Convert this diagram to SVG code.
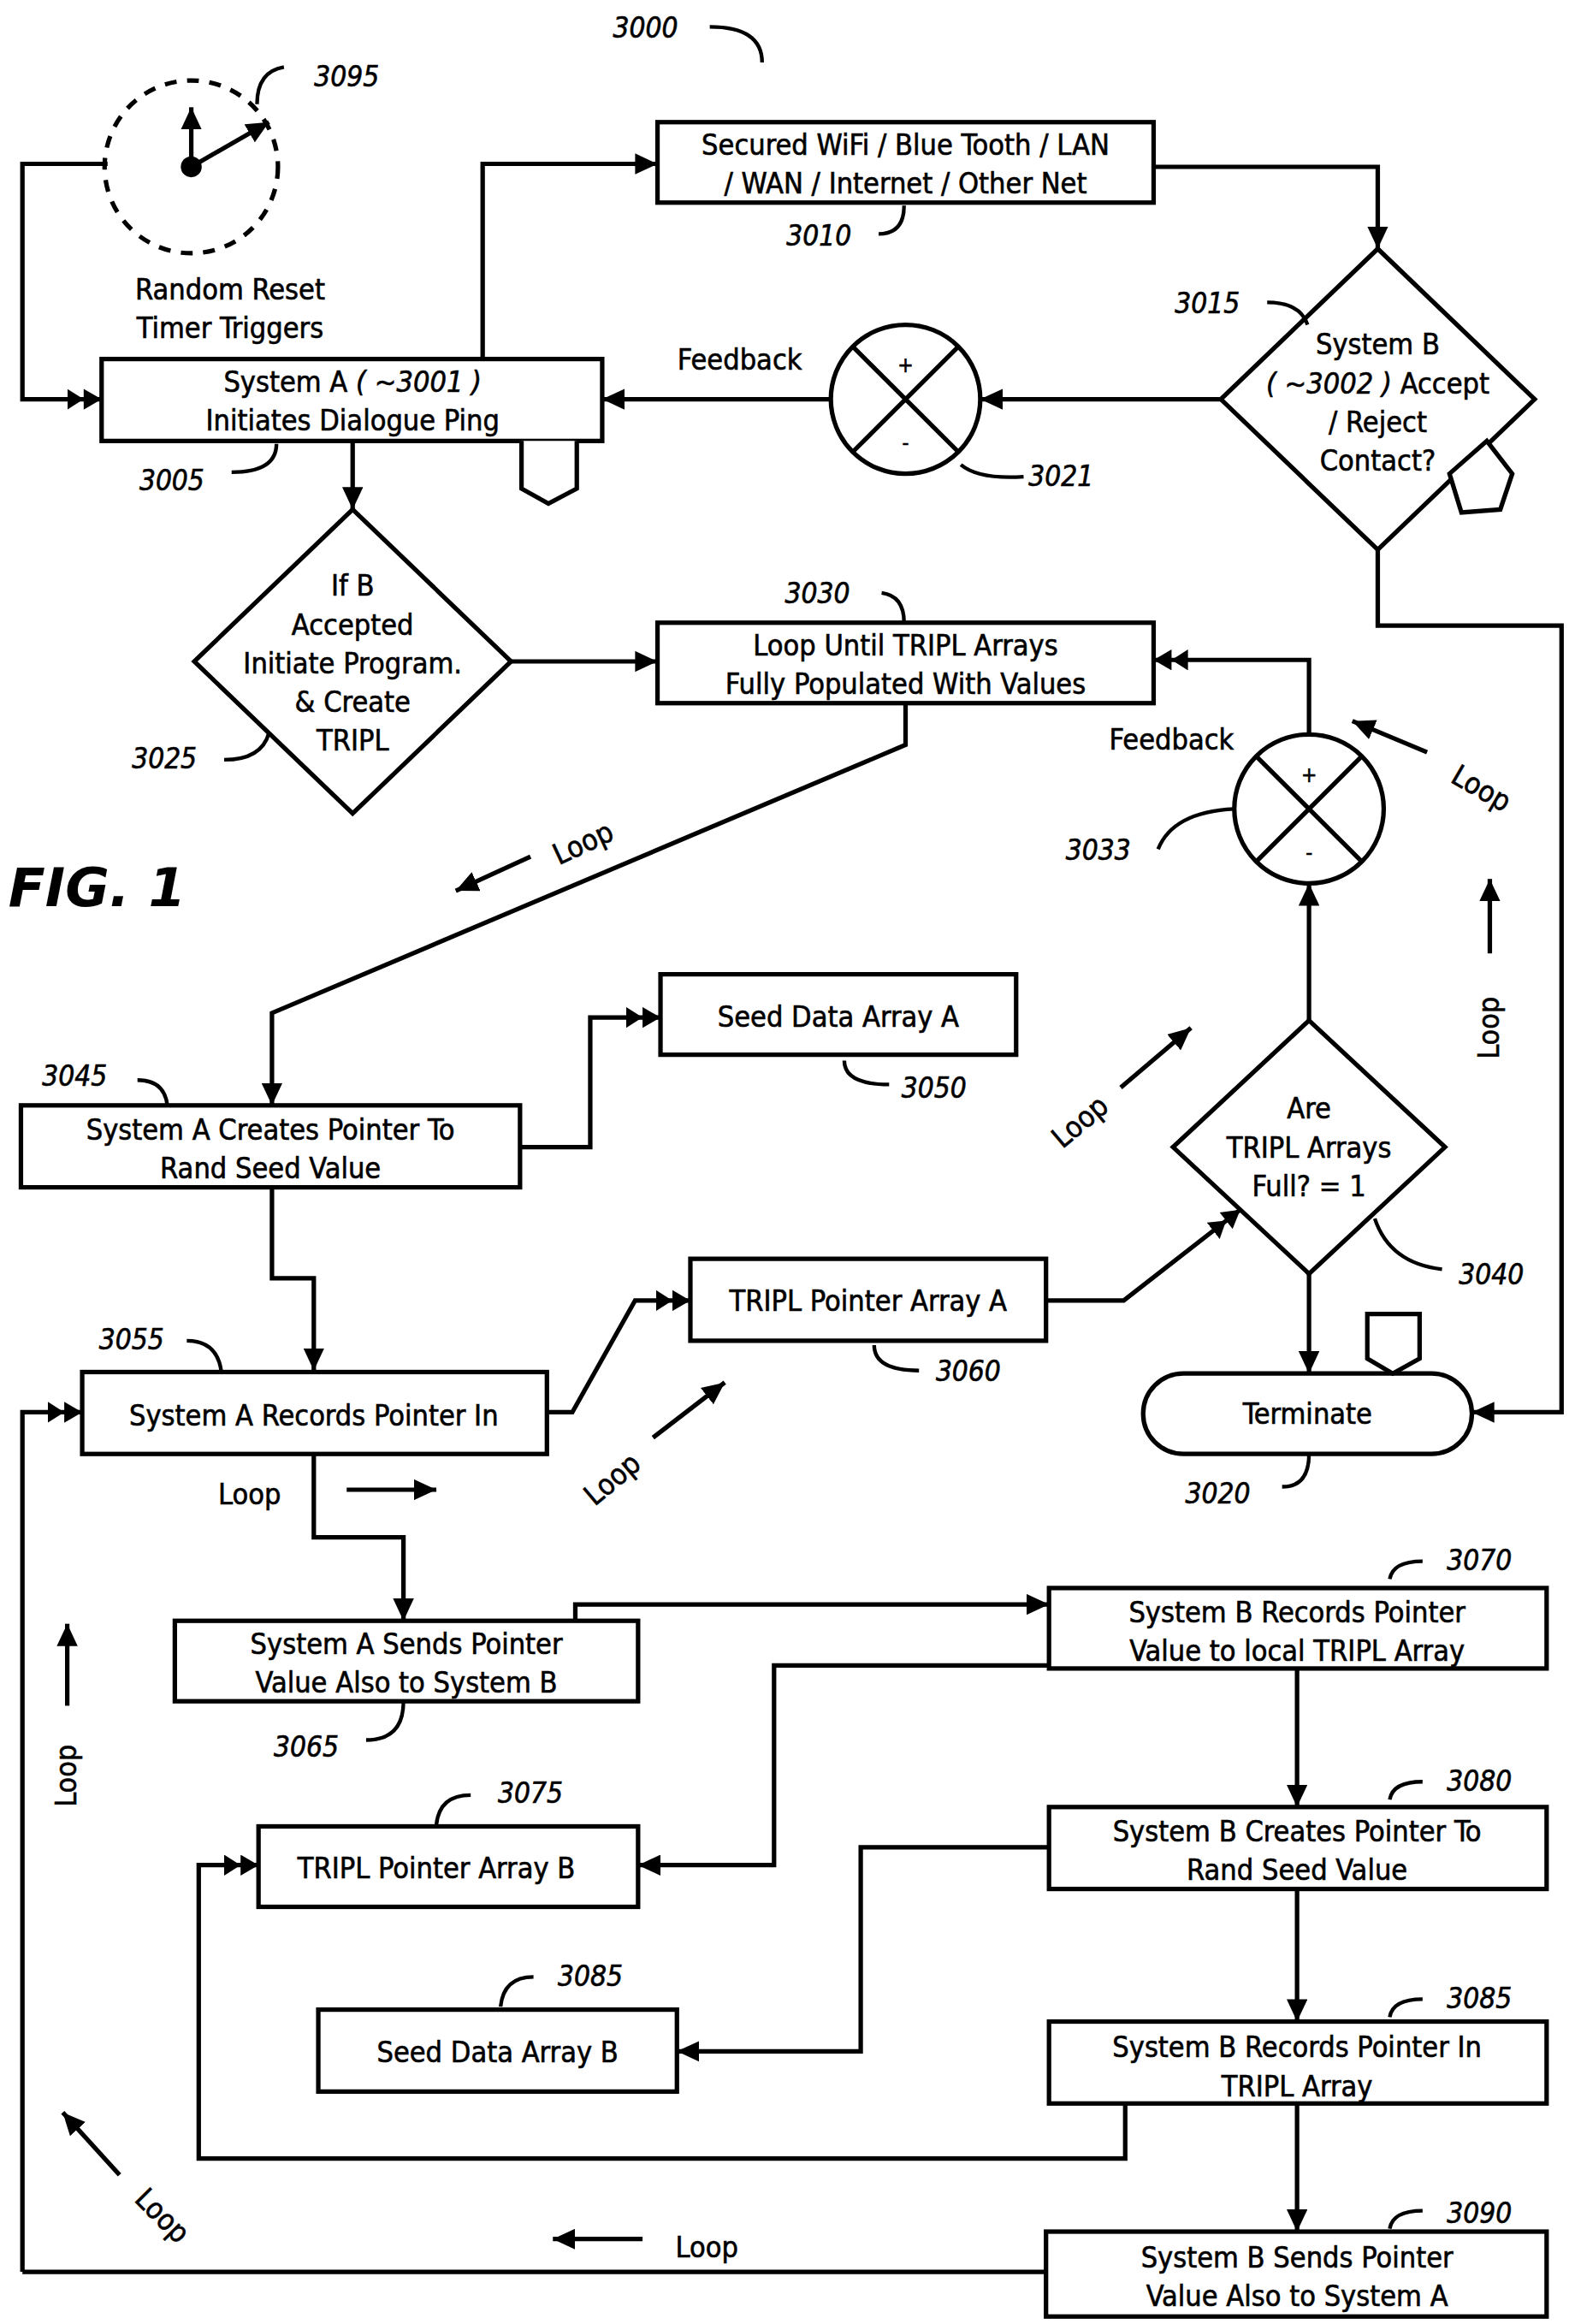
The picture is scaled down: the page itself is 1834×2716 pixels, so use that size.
<svg xmlns="http://www.w3.org/2000/svg" width="1834" height="2716" viewBox="0 0 1834 2716">
<defs>
<marker id="a" markerUnits="userSpaceOnUse" markerWidth="16" markerHeight="14" refX="15" refY="7" orient="auto"><path d="M0,0 L15,7 L0,14 Z" fill="#000"/></marker>
<marker id="d" markerUnits="userSpaceOnUse" markerWidth="24" markerHeight="14" refX="23" refY="7" orient="auto"><path d="M0,0 L11,7 L0,14 Z M11,0 L23,7 L11,14 Z" fill="#000"/></marker>
<style>
.b{fill:#fff;stroke:#000;stroke-width:3}
.l{fill:none;stroke:#000;stroke-width:3}
.t{font-family:"DejaVu Sans","Liberation Sans",sans-serif;font-stretch:condensed;font-size:19.5px;text-anchor:middle;fill:#000;stroke:#000;stroke-width:0.35}
.n{font-family:"DejaVu Sans","Liberation Sans",sans-serif;font-stretch:condensed;font-style:italic;font-size:19px;text-anchor:middle;fill:#000;stroke:#000;stroke-width:0.35}
.c{fill:none;stroke:#000;stroke-width:2.5}
</style>
</defs>
<rect width="1834" height="2716" fill="#fff"/>
<g transform="scale(1.7467 1.741)">
<g id="connectors">
<path class="l" d="M72,110 H15 V268 H68" marker-end="url(#d)"/>
<path class="l" d="M323,241 V110 H440" marker-end="url(#a)"/>
<path class="l" d="M772,112 H922 V167" marker-end="url(#a)"/>
<path class="l" d="M817,268 H656" marker-end="url(#a)"/>
<path class="l" d="M556,268 H403" marker-end="url(#a)"/>
<path class="l" d="M922,369 V420 H1045 V948 H985" marker-end="url(#a)"/>
<path class="l" d="M236,296 V342" marker-end="url(#a)"/>
<path class="l" d="M342,444 H440" marker-end="url(#a)"/>
<path class="l" d="M606,472 V500 L182,680 V742" marker-end="url(#a)"/>
<path class="l" d="M876,493 V443 H772" marker-end="url(#d)"/>
<path class="l" d="M876,685 V593" marker-end="url(#a)"/>
<path class="l" d="M876,855 V922" marker-end="url(#a)"/>
<path class="l" d="M348,770 H395 V683 H442" marker-end="url(#d)"/>
<path class="l" d="M182,797 V858 H210 V920" marker-end="url(#a)"/>
<path class="l" d="M15,1525 V948 H55" marker-end="url(#d)"/>
<path class="l" d="M366,948 H383 L425,873 H462" marker-end="url(#d)"/>
<path class="l" d="M700,873 H752 L830,812" marker-end="url(#d)"/>
<path class="l" d="M210,976 V1032 H270 V1088" marker-end="url(#a)"/>
<path class="l" d="M385,1088 V1077 H702" marker-end="url(#a)"/>
<path class="l" d="M702,1118 H518 V1252 H427" marker-end="url(#a)"/>
<path class="l" d="M868,1120 V1213" marker-end="url(#a)"/>
<path class="l" d="M702,1240 H576 V1377 H453" marker-end="url(#a)"/>
<path class="l" d="M868,1268 V1357" marker-end="url(#a)"/>
<path class="l" d="M753,1412 V1449 H133 V1252 H173" marker-end="url(#d)"/>
<path class="l" d="M868,1412 V1498" marker-end="url(#a)"/>
<path class="l" d="M700,1525 H15"/>
<path class="l" d="M355,575 L305,598" marker-end="url(#a)"/>
<path class="l" d="M955,505 L905,484" marker-end="url(#a)"/>
<path class="l" d="M997,640 V590" marker-end="url(#a)"/>
<path class="l" d="M750,730 L797,690" marker-end="url(#a)"/>
<path class="l" d="M437,965 L485,928" marker-end="url(#a)"/>
<path class="l" d="M232,1000 H292" marker-end="url(#a)"/>
<path class="l" d="M45,1145 V1090" marker-end="url(#a)"/>
<path class="l" d="M80,1460 L42,1418" marker-end="url(#a)"/>
<path class="l" d="M430,1503 H370" marker-end="url(#a)"/>
</g>
<g id="loops">
<text class="t" transform="translate(393,572) rotate(-25)">Loop</text>
<text class="t" transform="translate(988,535) rotate(30)">Loop</text>
<text class="t" transform="translate(1003,690) rotate(-90)">Loop</text>
<text class="t" transform="translate(727,758) rotate(-40)">Loop</text>
<text class="t" transform="translate(414,998) rotate(-40)">Loop</text>
<text class="t" x="167" y="1010">Loop</text>
<text class="t" transform="translate(51,1192) rotate(-90)">Loop</text>
<text class="t" transform="translate(104,1492) rotate(45)">Loop</text>
<text class="t" x="473" y="1515">Loop</text>
<text class="t" x="495" y="248">Feedback</text>
<text class="t" x="784" y="503">Feedback</text>
<text x="65" y="608" style="font-family:'DejaVu Sans',sans-serif;font-style:italic;font-weight:bold;font-size:36px;text-anchor:middle">FIG. 1</text>
</g>
<g id="n3000"><text class="n" x="432" y="25">3000</text><path class="c" d="M475,18 Q510,18 510,42"/></g>
<g id="n3095">
<circle cx="128" cy="112" r="58" fill="none" stroke="#000" stroke-width="3" stroke-dasharray="8,7"/>
<circle cx="128" cy="112" r="7" fill="#000"/>
<path class="l" d="M128,112 V72" marker-end="url(#a)"/>
<path class="l" d="M128,112 L180,82" marker-end="url(#a)"/>
<text class="n" x="232" y="58">3095</text><path class="c" d="M190,45 Q172,48 172,70"/>
<text class="t" x="154" y="201">Random Reset</text><text class="t" x="154" y="227">Timer Triggers</text>
</g>
<g id="n3005"><rect class="b" x="68" y="241" width="335" height="55"/>
<text class="t" x="236" y="263">System A <tspan font-style="italic">( ~3001 )</tspan></text><text class="t" x="236" y="289">Initiates Dialogue Ping</text>
<path class="b" d="M349,296 V328 L367,338 L386,328 V296"/>
<text class="n" x="115" y="329">3005</text><path class="c" d="M155,317 Q185,317 185,298"/></g>
<g id="n3010"><rect class="b" x="440" y="82" width="332" height="54"/>
<text class="t" x="606" y="104">Secured WiFi / Blue Tooth / LAN</text><text class="t" x="606" y="130">/ WAN / Internet / Other Net</text>
<text class="n" x="548" y="165">3010</text><path class="c" d="M588,157 Q605,157 605,138"/></g>
<g id="n3015"><path class="b" d="M922,167 L1027,268 L922,369 L817,268 Z"/>
<text class="t" x="922" y="238">System B</text><text class="t" x="922" y="264"><tspan font-style="italic">( ~3002 )</tspan> Accept</text><text class="t" x="922" y="290">/ Reject</text><text class="t" x="922" y="316">Contact?</text>
<path class="b" d="M970,318 L995,296 L1012,318 L1004,342 L978,344 Z"/>
<text class="n" x="808" y="210">3015</text><path class="c" d="M848,203 Q870,203 875,218"/></g>
<g id="n3021"><circle class="b" cx="606" cy="268" r="50"/><path class="l" d="M571,233 L641,303 M641,233 L571,303"/>
<text class="t" x="606" y="250" style="font-size:14px">+</text><text class="t" x="606" y="302" style="font-size:14px">-</text>
<text class="n" x="710" y="326">3021</text><path class="c" d="M643,312 Q655,322 685,320"/></g>
<g id="n3025"><path class="b" d="M236,342 L342,444 L236,546 L130,444 Z"/>
<text class="t" x="236" y="400">If B</text><text class="t" x="236" y="426">Accepted</text><text class="t" x="236" y="452">Initiate Program.</text><text class="t" x="236" y="478">&amp; Create</text><text class="t" x="236" y="504">TRIPL</text>
<text class="n" x="110" y="516">3025</text><path class="c" d="M150,510 Q175,510 180,492"/></g>
<g id="n3030"><rect class="b" x="440" y="418" width="332" height="54"/>
<text class="t" x="606" y="440">Loop Until TRIPL Arrays</text><text class="t" x="606" y="466">Fully Populated With Values</text>
<text class="n" x="547" y="405">3030</text><path class="c" d="M590,398 Q605,400 605,418"/></g>
<g id="n3033"><circle class="b" cx="876" cy="543" r="50"/><path class="l" d="M841,508 L911,578 M911,508 L841,578"/>
<text class="t" x="876" y="525" style="font-size:14px">+</text><text class="t" x="876" y="577" style="font-size:14px">-</text>
<text class="n" x="735" y="577">3033</text><path class="c" d="M775,570 Q785,545 826,543"/></g>
<g id="n3040"><path class="b" d="M876,685 L967,770 L876,855 L785,770 Z"/>
<text class="t" x="876" y="751">Are</text><text class="t" x="876" y="777">TRIPL Arrays</text><text class="t" x="876" y="803">Full? = 1</text>
<text class="n" x="998" y="862">3040</text><path class="c" d="M920,818 Q930,848 965,852"/></g>
<g id="n3020"><rect class="b" x="765" y="922" width="220" height="54" rx="27"/>
<text class="t" x="875" y="956">Terminate</text>
<path class="b" d="M915,882 H950 V912 L932,922 L915,912 Z"/>
<text class="n" x="815" y="1009">3020</text><path class="c" d="M858,998 Q876,998 876,976"/></g>
<g id="n3050"><rect class="b" x="442" y="654" width="238" height="54"/><text class="t" x="561" y="689">Seed Data Array A</text>
<text class="n" x="625" y="737">3050</text><path class="c" d="M565,712 Q565,728 595,728"/></g>
<g id="n3045"><rect class="b" x="14" y="742" width="334" height="55"/>
<text class="t" x="181" y="765">System A Creates Pointer To</text><text class="t" x="181" y="791">Rand Seed Value</text>
<text class="n" x="50" y="729">3045</text><path class="c" d="M92,725 Q110,725 112,742"/></g>
<g id="n3055"><rect class="b" x="55" y="921" width="311" height="55"/><text class="t" x="210" y="957">System A Records Pointer In</text>
<text class="n" x="88" y="906">3055</text><path class="c" d="M125,900 Q145,900 148,920"/></g>
<g id="n3060"><rect class="b" x="462" y="845" width="238" height="55"/><text class="t" x="581" y="880">TRIPL Pointer Array A</text>
<text class="n" x="648" y="927">3060</text><path class="c" d="M585,903 Q585,920 615,920"/></g>
<g id="n3065"><rect class="b" x="117" y="1088" width="310" height="54"/>
<text class="t" x="272" y="1110">System A Sends Pointer</text><text class="t" x="272" y="1136">Value Also to System B</text>
<text class="n" x="205" y="1179">3065</text><path class="c" d="M245,1168 Q270,1168 270,1142"/></g>
<g id="n3070"><rect class="b" x="702" y="1066" width="333" height="54"/>
<text class="t" x="868" y="1089">System B Records Pointer</text><text class="t" x="868" y="1115">Value to local TRIPL Array</text>
<text class="n" x="990" y="1054">3070</text><path class="c" d="M930,1060 Q932,1048 952,1048"/></g>
<g id="n3075"><rect class="b" x="173" y="1226" width="254" height="54"/><text class="t" x="292" y="1261">TRIPL Pointer Array B</text>
<text class="n" x="355" y="1210">3075</text><path class="c" d="M292,1225 Q294,1205 315,1205"/></g>
<g id="n3080"><rect class="b" x="702" y="1213" width="333" height="55"/>
<text class="t" x="868" y="1236">System B Creates Pointer To</text><text class="t" x="868" y="1262">Rand Seed Value</text>
<text class="n" x="990" y="1202">3080</text><path class="c" d="M930,1208 Q932,1196 952,1196"/></g>
<g id="n3085b"><rect class="b" x="213" y="1349" width="240" height="55"/><text class="t" x="333" y="1384">Seed Data Array B</text>
<text class="n" x="395" y="1333">3085</text><path class="c" d="M335,1347 Q337,1327 357,1327"/></g>
<g id="n3085"><rect class="b" x="702" y="1357" width="333" height="55"/>
<text class="t" x="868" y="1381">System B Records Pointer In</text><text class="t" x="868" y="1407">TRIPL Array</text>
<text class="n" x="990" y="1348">3085</text><path class="c" d="M930,1354 Q932,1342 952,1342"/></g>
<g id="n3090"><rect class="b" x="700" y="1498" width="335" height="57"/>
<text class="t" x="868" y="1522">System B Sends Pointer</text><text class="t" x="868" y="1548">Value Also to System A</text>
<text class="n" x="990" y="1492">3090</text><path class="c" d="M930,1496 Q932,1484 952,1484"/></g>
</g>
</svg>
